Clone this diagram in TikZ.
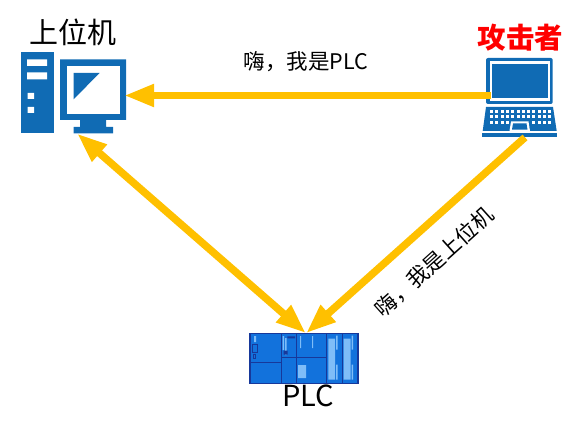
\documentclass[tikz,border=0pt]{standalone}
\usepackage{fontspec}
\setmainfont{Noto Sans CJK SC}
\usetikzlibrary{arrows.meta,positioning}
\definecolor{iconblue}{HTML}{106BB4}
\definecolor{linkgold}{HTML}{FFC000}
\definecolor{plcblue}{HTML}{1272DC}
\definecolor{plcedge}{HTML}{17389A}
\definecolor{plclight}{HTML}{7FBDF8}
\tikzset{
  iconbox/.style={inner sep=0pt,outer sep=0pt,minimum width=#1},
  title/.style={inner sep=0pt,font=\fontsize{29}{29}\selectfont,text=black},
  note/.style={inner sep=0pt,font=\fontsize{21.5}{21.5}\selectfont,text=black},
  link/.style={-{Triangle[length=30pt,width=21pt]},line width=7.5pt,draw=linkgold},
  biglink/.style={{Triangle[length=30pt,width=21pt]}-{Triangle[length=30pt,width=21pt]},line width=7.5pt,draw=linkgold},
  icon/.style={fill=iconblue,draw=none},
  hole/.style={fill=white,draw=none},
  slot/.style={fill=plclight,draw=none}
}
\begin{document}
\begin{tikzpicture}[x=1pt,y=-1pt]
    \useasboundingbox (0,0) rectangle (578,425);
    % host
    \node[iconbox=104pt,minimum height=81pt] (hmi) at (72,93) {};
    \fill[icon] (20.5,52.5) rectangle (54,133.5);
    \fill[hole] (27,59.5) rectangle (47,66) (27,72.5) rectangle (47,79.5) (27.5,93) rectangle (34,99) (27.5,107) rectangle (34,113);
    \fill[icon] (60,59.5) rectangle (126,120) (80,120) rectangle (106,127) (73.5,127) rectangle (113,133.5);
    \fill[hole] (66.5,66) rectangle (119.5,114);
    \fill[icon] (73.5,73) -- (99.5,73) -- (73.5,99.5) -- cycle;
    % laptop
    \node[iconbox=75pt,minimum height=79.4pt] (attacker) at (519.5,97.7) {};
    \fill[icon,rounded corners=2pt] (486,58) rectangle (552.7,104);
    \fill[hole] (490,61.5) rectangle (549.5,101);
    \fill[icon] (491.5,64) rectangle (547.5,98);
    \fill[icon] (486,107) -- (553,107) -- (556.7,131) -- (482.7,131) -- cycle;
    \fill[icon] (482.3,133.3) rectangle (557,137.3);
    \foreach \row in {111,116.7}
      \foreach \col in {0,...,11}
        \fill[hole] ({490+\col*5.3},\row-1.4) rectangle ++(3,3);
    \foreach \col in {0,1,2,3,8,9,10,11}
      \fill[hole] ({490+\col*5.3},120.9) rectangle ++(3,3);
    \fill[hole] (511,121.5) -- (528.5,121.5) -- (530,131) -- (509.5,131) -- cycle;
    \fill[icon] (513,123.5) -- (526.5,123.5) -- (527.5,129.7) -- (512,129.7) -- cycle;
    % plc
    \node[iconbox=108pt,minimum height=50pt,fill=plcblue] (plc) at (304,358.3) {};
    \fill[slot] (254,336) rectangle (256,342) (282.5,336) rectangle (284,350) (285,338) rectangle (286.7,355);
    \fill[slot] (300,336) rectangle (301,348) (312,336) rectangle (313,348);
    \fill[slot] (298,365) rectangle (306,378) (328.3,338.7) rectangle (335,379.7) (343.7,338.7) rectangle (350.7,379.7);
    \fill[slot] (336,335.5) rectangle (337.7,349.7) (336,364.7) rectangle (337.7,379.7) (351.7,335.5) rectangle (353,349.7) (351.7,364.7) rectangle (353,379.7);
    \fill[plcedge] (287.3,336.3) rectangle (295,338.3) (283.5,350.7) rectangle (287.7,354.7);
    \draw[plcedge,line width=.5pt] (252.5,344) rectangle (257.7,352) (253,354) rectangle (255.7,358.7);
    \draw[plcedge,line width=1pt] (281,333.3) -- (281,383.3) (296.7,333.3) -- (296.7,383.3) (326.7,333.3) -- (326.7,383.3) (342,333.3) -- (342,383.3);
    \draw[plcedge,line width=.7pt] (250,362) -- (281,362) (281,357) -- (326.7,357);
    \draw[plcedge,line width=1.2pt] (plc.south west) rectangle (plc.north east);
    % labels
    \node[title,above=6pt of hmi,xshift=1pt] (hmititle) {上位机};
    \node[title,font=\fontsize{28.5}{28.5}\selectfont\bfseries,text=red,above=7pt of attacker,xshift=1pt] (attackertitle) {攻击者};
    \node[title,below=1pt of plc,xshift=4pt] (plctitle) {PLC};
    \node[note] (forgedplc) at (306,62) {嗨，我是PLC};
    \node[note,rotate=42] (forgedhmi) at (434,262) {嗨，我是上位机};
    % links
    \draw[link] ([xshift=9pt,yshift=2.2pt]attacker.west) -- ([yshift=-2.5pt]hmi.east);
    \draw[link] ([xshift=5.5pt]attacker.south) -- ([xshift=2pt]plc.north);
    \draw[biglink] ([xshift=5pt]hmi.south) -- ([xshift=2pt]plc.north);
  \end{tikzpicture}
\end{document}
